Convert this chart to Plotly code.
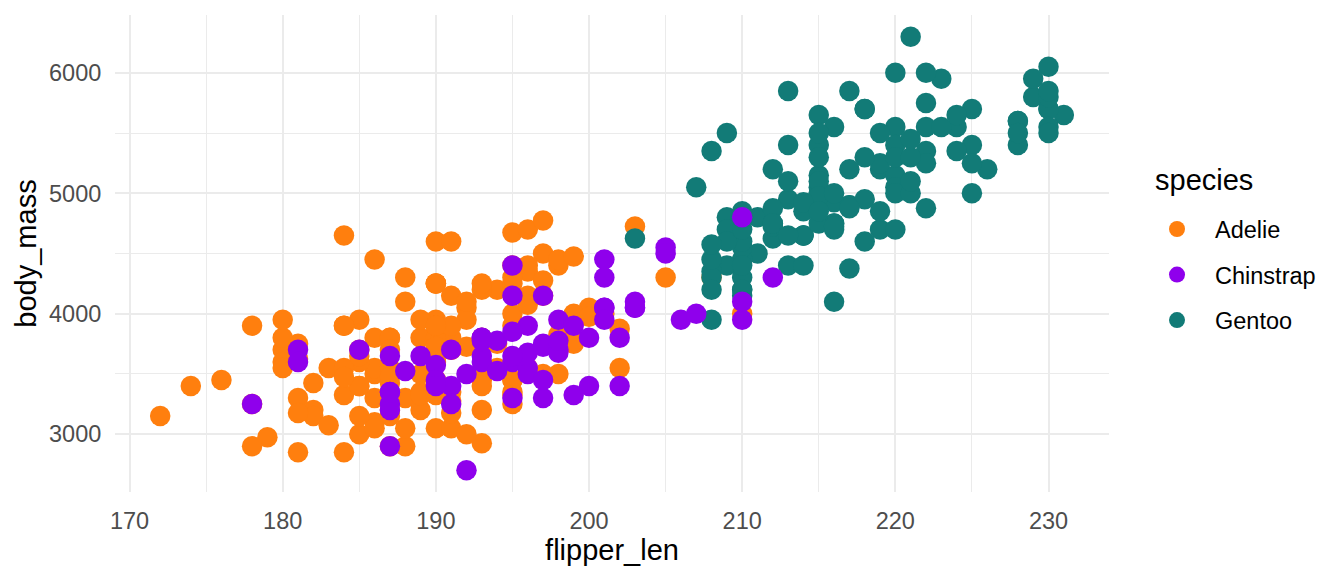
import plotly.graph_objects as go

species = ["Adelie", "Chinstrap", "Gentoo"]
colors = {"Adelie": "#FF7F0E", "Chinstrap": "#8F00EC", "Gentoo": "#127B77"}

adelie_flipper = [181,186,195,193,190,181,195,193,190,186,180,182,191,198,185,195,197,184,194,174,180,189,185,180,187,183,187,172,180,178,178,188,184,195,196,190,180,181,184,182,195,186,196,185,190,182,179,190,191,186,188,190,200,187,191,186,193,181,194,185,195,185,192,184,192,195,188,190,198,190,190,196,197,190,195,191,184,187,195,189,196,187,193,191,194,190,189,189,190,202,205,185,186,187,208,190,196,178,192,192,203,183,190,193,184,199,190,181,197,198,191,193,197,191,196,188,199,189,189,187,198,176,202,186,199,191,195,191,210,190,197,193,199,187,190,191,200,185,193,193,187,188,190,192,185,190,184,195,193,187,201]
adelie_mass = [3750,3800,3250,3450,3650,3625,4675,3475,4250,3300,3700,3200,3800,4400,3700,3450,4500,3325,4200,3400,3600,3800,3950,3800,3800,3550,3200,3150,3950,3250,3900,3300,3900,3325,4150,3950,3550,3300,4650,3150,3900,3100,4400,3000,4600,3425,2975,3450,4150,3500,4300,3450,4050,2900,3700,3550,3800,2850,3750,3150,4400,3600,4050,2850,3950,3350,4100,3050,4450,3600,3900,3550,4150,3700,4250,3700,3900,3550,4000,3200,4700,3800,4200,3350,3550,3800,3500,3950,3600,3550,4300,3400,4450,3300,4300,3700,4350,2900,4100,3725,4725,3075,4250,2925,3550,3750,3900,3175,4775,3825,4600,3200,4275,3900,4075,2900,3775,3350,3325,3150,3500,3450,3875,3050,4000,3275,4300,3050,4000,3325,3500,3500,4475,3425,3900,3175,3975,3400,4250,3400,3475,3050,3725,3000,3650,4250,3475,3450,3750,3700,4000]

gentoo_flipper = [211,230,210,218,215,210,211,219,209,215,214,216,214,213,210,217,210,221,209,222,218,215,213,215,215,215,216,215,210,220,222,209,207,230,220,220,213,219,208,208,208,225,210,216,222,217,210,225,213,215,210,220,210,225,217,220,208,220,208,224,208,221,214,231,219,230,214,229,220,223,216,221,221,217,216,230,209,220,215,223,212,221,212,224,212,228,218,218,212,230,218,228,212,224,214,226,216,222,203,225,219,228,215,228,216,215,210,219,208,209,216,229,213,230,217,230,217,222,214,215,222,212,213]
gentoo_mass = [4500,5700,4450,5700,5400,4550,4800,5200,4400,5150,4650,5550,4650,5850,4200,5850,4150,6300,4800,5350,5700,5000,4400,5050,5000,5100,4100,5650,4600,5550,5250,4700,5050,6050,5150,5400,4950,5250,4350,5350,3950,5700,4300,4750,5550,4900,4200,5400,5100,5300,4850,5300,4400,5000,4900,5050,4300,5000,4450,5550,4200,5300,4400,5650,4700,5700,4650,5800,4700,5550,4750,5000,5100,5200,4700,5800,4600,6000,4750,5950,4625,5450,4725,5350,4750,5600,4600,5300,4875,5550,4950,5400,4750,5650,4850,5200,4925,4875,4625,5250,4850,5600,4975,5500,4725,5500,4700,5500,4575,5500,5000,5950,4650,5500,4375,5850,4875,6000,4925,4850,5750,5200,5400]

chinstrap_flipper = [192,196,193,188,197,198,178,197,195,198,193,194,185,201,190,201,197,181,190,195,181,191,187,193,195,197,200,200,191,205,187,201,187,203,195,199,195,210,192,205,210,187,196,196,196,201,190,212,187,198,199,201,193,203,187,197,191,203,202,194,206,189,195,207,202,193,210,198]
chinstrap_mass = [3500,3900,3650,3525,3725,3950,3250,3750,4150,3700,3800,3775,3700,4050,3575,4050,3300,3700,3450,4400,3600,3400,2900,3800,3300,4150,3400,3800,3700,4550,3200,4300,3350,4100,3600,3900,3850,4800,2700,4500,3950,3650,3550,3500,3675,4450,3400,4300,3250,3675,3325,3950,3600,4050,3350,3450,3250,4050,3800,3525,3950,3650,3650,4000,3400,3775,4100,3775]

assert len(adelie_flipper) == len(adelie_mass), (len(adelie_flipper), len(adelie_mass))
assert len(gentoo_flipper) == len(gentoo_mass), (len(gentoo_flipper), len(gentoo_mass))
assert len(chinstrap_flipper) == len(chinstrap_mass), (len(chinstrap_flipper), len(chinstrap_mass))

x_ticks = [170, 180, 190, 200, 210, 220, 230]
y_ticks = [3000, 4000, 5000, 6000]

FONT = "Liberation Sans, Arial, sans-serif"

# draw order as in the data: Adelie, Gentoo, Chinstrap
series = [
    ("Adelie", adelie_flipper, adelie_mass, 1),
    ("Gentoo", gentoo_flipper, gentoo_mass, 3),
    ("Chinstrap", chinstrap_flipper, chinstrap_mass, 2),
]

fig = go.Figure()
for name, xs, ys, rank in series:
    fig.add_trace(go.Scatter(
        x=xs, y=ys, mode="markers", name=name,
        legendgroup=name, legendrank=rank,
        marker=dict(color=colors[name], size=20.5, line=dict(width=0), opacity=1),
    ))

grid = "#EBEBEB"
fig.update_layout(
    width=1344, height=576,
    margin=dict(l=115, r=235, t=15, b=84),
    paper_bgcolor="white", plot_bgcolor="white",
    font=dict(family=FONT, color="black"),
    showlegend=True,
    legend=dict(
        font=dict(size=23.5, color="black"),
        x=1.0302, xanchor="left", y=0.597, yanchor="top",
        traceorder="grouped", tracegroupgap=12,
        itemsizing="trace", itemwidth=66, bgcolor="rgba(0,0,0,0)",
    ),
    annotations=[dict(
        text="species", xref="paper", yref="paper",
        x=1.0443, y=0.654, xanchor="left", yanchor="middle",
        showarrow=False, font=dict(size=29, color="black"),
    )],
    xaxis=dict(
        range=[169.05, 233.95], tickvals=x_ticks, ticktext=[str(v) for v in x_ticks],
        showgrid=True, gridcolor=grid, gridwidth=2.1,
        minor=dict(dtick=5, tick0=0, showgrid=True, gridcolor=grid, gridwidth=1.1),
        zeroline=False, showline=False,
        ticks="outside", ticklen=8, tickcolor="rgba(0,0,0,0)",
        tickfont=dict(size=23.5, color="#4D4D4D"),
        title=dict(text="flipper_len", font=dict(size=29, color="black"), standoff=4),
    ),
    yaxis=dict(
        range=[2520, 6480], tickvals=y_ticks, ticktext=[str(v) for v in y_ticks],
        showgrid=True, gridcolor=grid, gridwidth=2.1,
        minor=dict(dtick=500, tick0=0, showgrid=True, gridcolor=grid, gridwidth=1.1),
        zeroline=False, showline=False,
        ticks="outside", ticklen=8, tickcolor="rgba(0,0,0,0)",
        tickfont=dict(size=23.5, color="#4D4D4D"),
        title=dict(text="body_mass", font=dict(size=29, color="black"), standoff=3),
    ),
)

fig.write_html("out.html", config={"displayModeBar": False},
               post_script="document.body.style.margin='0';")
